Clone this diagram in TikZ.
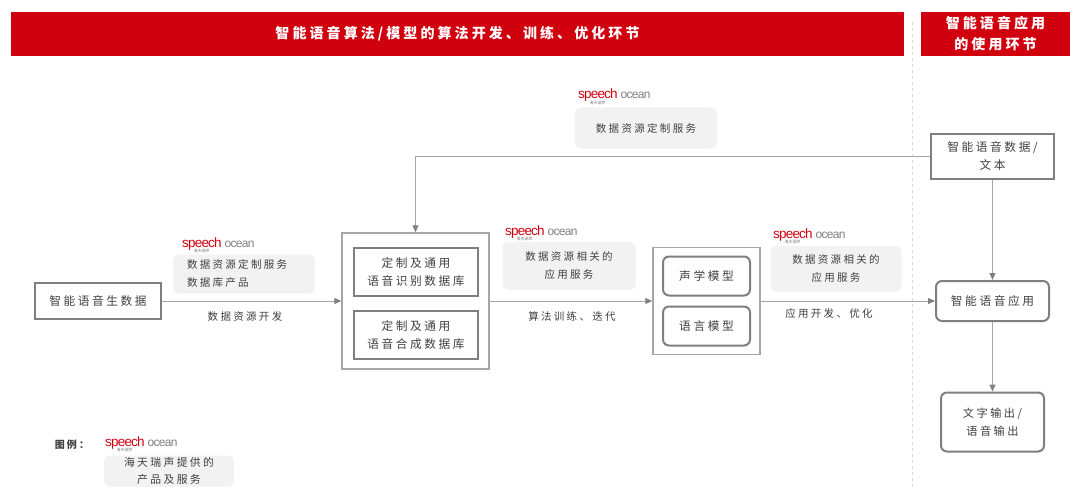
\documentclass[tikz,border=0pt]{standalone}
\usepackage{fontspec}
\usetikzlibrary{arrows.meta}
\setmainfont{Liberation Sans}
\newfontfamily\cjk[LetterSpace=22]{Noto Sans CJK SC}
\newfontfamily\cjkplain{Noto Sans CJK SC}
\newfontfamily\logofont{Liberation Sans}
\definecolor{brandred}{HTML}{D0000F}
\definecolor{boxgray}{HTML}{7F7F7F}
\definecolor{linegray}{HTML}{A6A6A6}
\definecolor{panelgray}{HTML}{F2F2F2}
\definecolor{txt}{HTML}{404040}
\newcommand{\speechlogo}{{\logofont\fontsize{13.5}{13.5}\selectfont\addfontfeature{LetterSpace=-6}\textcolor{brandred}{speech}\llap{\raisebox{-5.5pt}{\cjkplain\fontsize{4}{4}\selectfont\textcolor{gray}{海天瑞声}\hspace{12pt}}}\hspace{3pt}{\fontsize{12}{12}\selectfont\textcolor{gray}{ocean}}}}
\tikzset{
  x=1pt,y=-1pt,
  every node/.style={font=\cjk\fontsize{11.7}{18}\selectfont,text=txt,align=center,inner sep=0pt},
  banner/.style={fill=brandred,text=white,font=\cjk\bfseries\fontsize{14}{21}\selectfont},
  sqbox/.style={draw=boxgray,line width=2pt,fill=white},
  rdbox/.style={draw=boxgray,line width=2pt,fill=white,rounded corners=6pt},
  panel/.style={fill=panelgray,rounded corners=6pt,font=\cjk\fontsize{10.5}{18}\selectfont},
  frame/.style={draw=linegray,line width=1.5pt,fill=white},
  logo/.style={inner sep=0pt,anchor=base west},
  link/.style={draw=linegray,line width=1pt},
  linkarr/.style={link,-{Triangle[length=7pt,width=6pt,fill=gray,color=gray]}},
  lbl/.style={font=\cjk\fontsize{10.5}{14}\selectfont},
}
\begin{document}
\begin{tikzpicture}
\useasboundingbox (0,0) rectangle (1080,495);
\fill[white] (0,0) rectangle (1080,495);
% banners
\node[banner,minimum width=893pt,minimum height=44pt] (b1) at (457.5,34) {智能语音算法/模型的算法开发、训练、优化环节};
\node[banner,minimum width=149pt,minimum height=44pt] (b2) at (995.5,34) {智能语音应用\\的使用环节};
\coordinate (sepT) at (912,22);
\coordinate (sepB) at (912,488);
\draw[draw=linegray!45,dashed,line width=.7pt] (sepT) -- (sepB);
% frames
\node[frame,minimum width=147pt,minimum height=136pt] (dbframe) at (415.5,301) {};
\node[frame,minimum width=107pt,minimum height=107pt] (mframe) at (706.5,301) {};
% boxes
\node[sqbox,minimum width=126pt,minimum height=36pt] (raw) at (98,301) {智能语音生数据};
\node[sqbox,minimum width=124pt,minimum height=48pt] (db1) at (416,272) {定制及通用\\语音识别数据库};
\node[sqbox,minimum width=124pt,minimum height=48pt] (db2) at (416,335) {定制及通用\\语音合成数据库};
\node[rdbox,minimum width=87pt,minimum height=39pt] (m1) at (706.5,276) {声学模型};
\node[rdbox,minimum width=87pt,minimum height=39pt] (m2) at (706.5,326) {语言模型};
\node[sqbox,minimum width=123pt,minimum height=45pt] (input) at (992.5,156) {智能语音数据/\\文本};
\node[rdbox,minimum width=113pt,minimum height=40pt] (app) at (992.5,301) {智能语音应用};
\node[rdbox,minimum width=103pt,minimum height=59pt,font=\cjk\fontsize{11.2}{18}\selectfont] (out) at (992.5,422) {文字输出/\\语音输出};
% connectors
\draw[linkarr] (raw) -- (dbframe);
\draw[linkarr] (dbframe) -- (mframe);
\draw[linkarr] (mframe) -- (app);
\draw[linkarr] (input.west) -| (dbframe.north);
\draw[linkarr] (input) -- (app);
\draw[linkarr] (app) -- (out);
% panels
\node[panel,minimum width=142pt,minimum height=41pt] (p0) at (646,128) {数据资源定制服务};
\node[panel,minimum width=142pt,minimum height=39pt,align=left,text width=114pt,inner xsep=14pt] (p1) at (244,274) {数据资源定制服务\\数据库产品};
\node[panel,minimum width=133pt,minimum height=48pt] (p2) at (569,266) {数据资源相关的\\应用服务};
\node[panel,minimum width=131pt,minimum height=46pt] (p3) at (836,269) {数据资源相关的\\应用服务};
\node[panel,minimum width=130pt,minimum height=31pt,font=\cjk\fontsize{10.8}{17}\selectfont] (p4) at (169,471) {海天瑞声提供的\\产品及服务};
% logos
\node[logo] (l0) at (578,99) {\speechlogo};
\node[logo] (l1) at (182,247) {\speechlogo};
\node[logo] (l2) at (505,235) {\speechlogo};
\node[logo] (l3) at (773,238) {\speechlogo};
\node[logo] (l4) at (105,446) {\speechlogo};
% labels
\node[lbl] (t1) at (245,317) {数据资源开发};
\node[lbl] (t2) at (572,316) {算法训练、迭代};
\node[lbl] (t3) at (829,314) {应用开发、优化};
\node[lbl,font=\cjk\bfseries\fontsize{10}{12}\selectfont] (t4) at (72,445) {图例：};
\end{tikzpicture}
\end{document}
